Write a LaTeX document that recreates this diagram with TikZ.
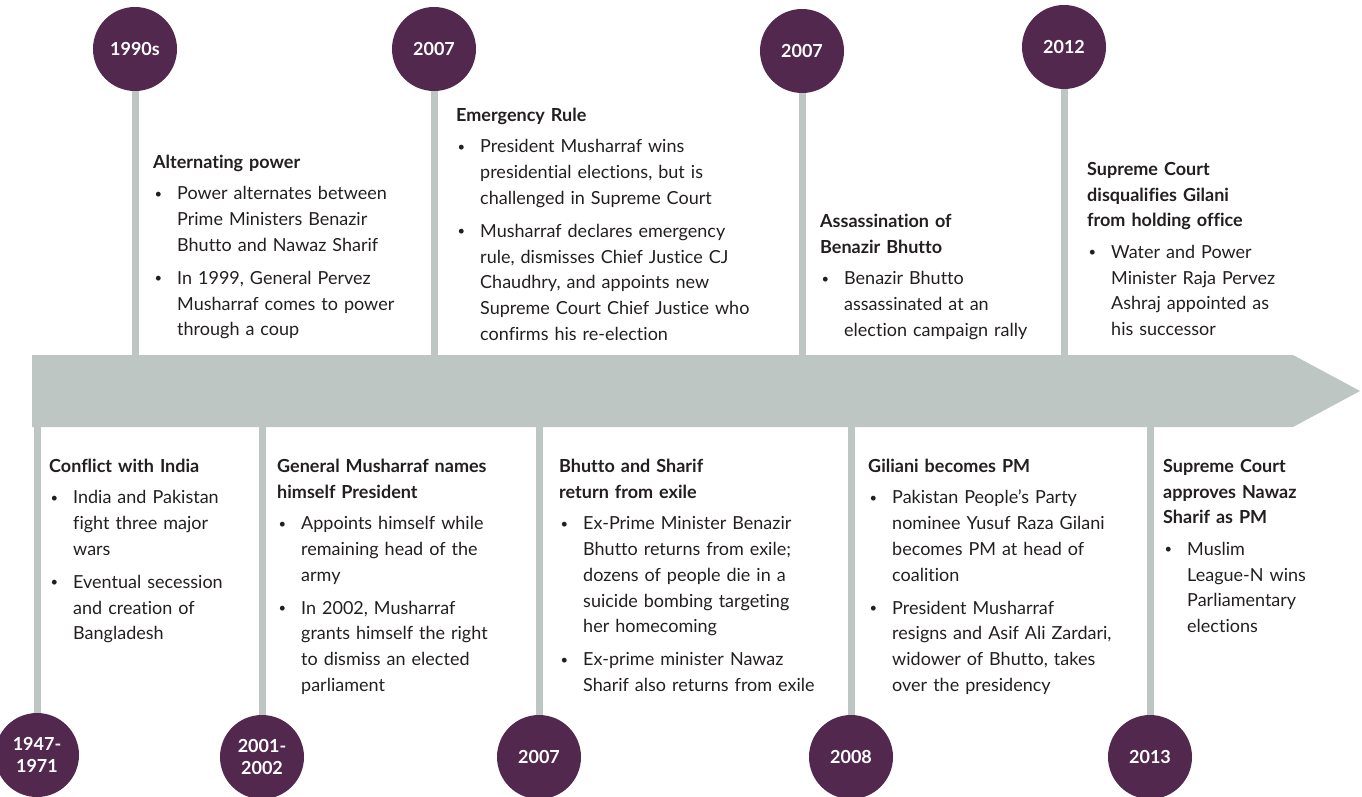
\documentclass[tikz,border=0pt]{standalone}
\usepackage{fontspec}
\setmainfont{Lato}[Ligatures=NoCommon]
\usetikzlibrary{positioning}

\definecolor{plum}{RGB}{82,40,78}
\definecolor{barcol}{RGB}{190,198,195}
\definecolor{ink}{RGB}{35,31,32}

% title line and bullet items inside a text block
\newcommand{\ttl}[1]{\noindent{\bfseries #1}\par\vspace{5.5pt}}
\newcommand{\itm}[1]{{\let\\\newline\hangindent=24pt\hangafter=1\noindent
	\makebox[24pt][l]{\hspace{1.5pt}\raisebox{1.5pt}{\fontsize{13}{13}\selectfont\textbullet}}#1\par}\vspace{7pt}}

\begin{document}
\begin{tikzpicture}[x=1pt, y=-1pt,
		year/.style={circle, fill=plum, minimum size=84pt, inner sep=0pt,
			text=white, align=center, font=\bfseries\fontsize{18}{22}\selectfont},
		stem/.style={barcol, line width=7pt},
		info/.style={anchor=north west, inner sep=0pt, text width=300pt, align=left,
			text=ink, font=\fontsize{18}{25.8}\selectfont}]
	\useasboundingbox (0,0) rectangle (1362,797);

	% timeline bar
	\fill[barcol] (32,355) coordinate (bartop) -- (1293,355) -- (1360,391)
		-- (1293,427) -- (32,427) coordinate (barbot) -- cycle;

	% years above the bar
	\node[year] (t1) at (135,49) {1990s};
	\node[year] (t2) at (434,49) {2007};
	\node[year] (t3) at (802,51) {2007};
	\node[year] (t4) at (1064,47) {2012};

	% years below the bar
	\node[year] (b1) at (37,755) {1947-\\1971};
	\node[year] (b2) at (262,757) {2001-\\2002};
	\node[year] (b3) at (539,757) {2007};
	\node[year] (b4) at (851,757) {2008};
	\node[year] (b5) at (1150,757) {2013};

	\foreach \c in {t1, t2, t3, t4} {
			\draw[stem] (\c.south) -- (\c.south |- bartop);
		}
	\foreach \c in {b1, b2, b3, b4, b5} {
			\draw[stem] (\c.north |- barbot) -- (\c.north);
		}

	% events above
	\node[info] (e1) at (153,155) {\ttl{Alternating power}
		\itm{Power alternates between\\Prime Ministers Benazir\\Bhutto and Nawaz Sharif}
		\itm{In 1999, General Pervez\\Musharraf comes to power\\through a coup}};
	\node[info] (e2) at (456,108) {\ttl{Emergency Rule}
		\itm{President Musharraf wins\\presidential elections, but is\\challenged in Supreme Court}
		\itm{Musharraf declares emergency\\rule, dismisses Chief Justice CJ\\Chaudhry, and appoints new\\Supreme Court Chief Justice who\\confirms his re-election}};
	\node[info] (e3) at (820,214) {\ttl{Assassination of\\Benazir Bhutto}
		\itm{Benazir Bhutto\\assassinated at an\\election campaign rally}};
	\node[info] (e4) at (1087,162) {\ttl{Supreme Court\\disqualifies Gilani\\from holding office}
		\itm{Water and Power\\Minister Raja Pervez\\Ashraj appointed as\\his successor}};

	% events below
	\node[info] (f1) at (49,459) {\ttl{Conflict with India}
		\itm{India and Pakistan\\fight three major\\wars}
		\itm{Eventual secession\\and creation of\\Bangladesh}};
	\node[info] (f2) at (277,459) {\ttl{General Musharraf names\\himself President}
		\itm{Appoints himself while\\remaining head of the\\army}
		\itm{In 2002, Musharraf\\grants himself the right\\to dismiss an elected\\parliament}};
	\node[info] (f3) at (559,459) {\ttl{Bhutto and Sharif\\return from exile}
		\itm{Ex-Prime Minister Benazir\\Bhutto returns from exile;\\dozens of people die in a\\suicide bombing targeting\\her homecoming}
		\itm{Ex-prime minister Nawaz\\Sharif also returns from exile}};
	\node[info] (f4) at (868,459) {\ttl{Giliani becomes PM}
		\itm{Pakistan People’s Party\\nominee Yusuf Raza Gilani\\becomes PM at head of\\coalition}
		\itm{President Musharraf\\resigns and Asif Ali Zardari,\\widower of Bhutto, takes\\over the presidency}};
	\node[info] (f5) at (1163,459) {\ttl{Supreme Court\\approves Nawaz\\Sharif as PM}
		\itm{Muslim\\League-N wins\\Parliamentary\\elections}};
\end{tikzpicture}
\end{document}
